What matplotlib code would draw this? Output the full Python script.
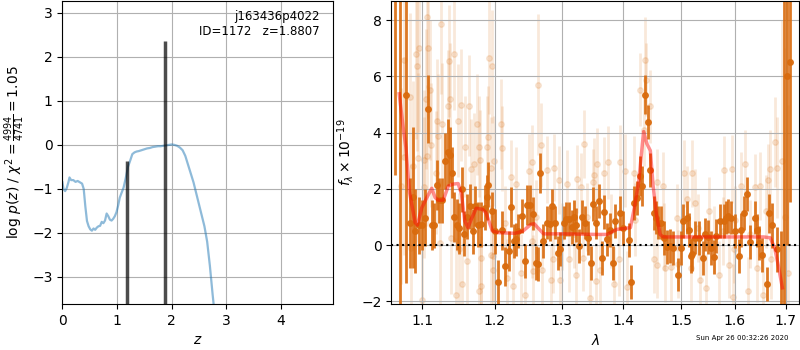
import numpy as np
import matplotlib.pyplot as plt

# --- redshift PDF ---
z_grid = [0.00, 0.02, 0.05, 0.08, 0.11, 0.13, 0.16, 0.20, 0.24, 0.28, 0.32, 0.36,
          0.39, 0.42, 0.45, 0.48, 0.51, 0.54, 0.57, 0.60, 0.63, 0.66, 0.69, 0.72,
          0.75, 0.78, 0.81, 0.84, 0.87, 0.90, 0.93, 0.96, 0.99, 1.02, 1.05, 1.08,
          1.12, 1.16, 1.20, 1.24, 1.28, 1.32, 1.36, 1.40, 1.45, 1.50, 1.55, 1.60,
          1.65, 1.70, 1.75, 1.80, 1.85, 1.90, 1.95, 2.00, 2.05, 2.10, 2.15, 2.20,
          2.25, 2.30, 2.35, 2.40, 2.45, 2.50, 2.55, 2.60, 2.65, 2.70, 2.75, 2.80]
log_pz = [-0.85, -1.00, -1.05, -0.98, -0.85, -0.74, -0.80, -0.80, -0.84, -0.82, -0.85, -0.88,
          -1.00, -1.40, -1.73, -1.85, -1.92, -1.95, -1.90, -1.93, -1.88, -1.85, -1.84, -1.75,
          -1.78, -1.72, -1.56, -1.62, -1.70, -1.72, -1.68, -1.62, -1.53, -1.38, -1.20, -1.10,
          -0.97, -0.75, -0.50, -0.36, -0.21, -0.17, -0.15, -0.14, -0.12, -0.10, -0.08, -0.07,
          -0.05, -0.04, -0.03, -0.03, -0.02, -0.01, 0.00, 0.01, 0.00, -0.02, -0.06, -0.12,
          -0.25, -0.45, -0.65, -0.85, -1.10, -1.35, -1.60, -1.85, -2.20, -2.75, -3.40, -4.00]
z_peaks = [1.175, 1.87]
peak_heights = [-0.37, 2.37]

# --- spectrum: binned points (dark) ---
wave_bin = [1.065, 1.071, 1.079, 1.084, 1.088, 1.091, 1.096, 1.100, 1.104, 1.108, 1.113, 1.116,
            1.120, 1.123, 1.127, 1.131, 1.134, 1.137, 1.140, 1.143, 1.147, 1.150, 1.154, 1.157,
            1.161, 1.165, 1.169, 1.172, 1.176, 1.181, 1.186, 1.189, 1.191, 1.196, 1.200, 1.205,
            1.210, 1.215, 1.220, 1.224, 1.228, 1.231, 1.234, 1.240, 1.244, 1.247, 1.251, 1.256,
            1.261, 1.264, 1.267, 1.272, 1.278, 1.282, 1.285, 1.290, 1.294, 1.297, 1.304, 1.307,
            1.311, 1.316, 1.319, 1.323, 1.328, 1.332, 1.337, 1.341, 1.347, 1.350, 1.354, 1.359,
            1.365, 1.367, 1.373, 1.377, 1.383, 1.386, 1.395, 1.400, 1.409, 1.413, 1.418, 1.423,
            1.428, 1.432, 1.436, 1.441, 1.446, 1.452, 1.456, 1.460, 1.465, 1.469, 1.475, 1.480,
            1.486, 1.494, 1.499, 1.504, 1.511, 1.514, 1.518, 1.520, 1.526, 1.532, 1.540, 1.544,
            1.550, 1.554, 1.560, 1.565, 1.572, 1.579, 1.582, 1.586, 1.592, 1.601, 1.607, 1.612,
            1.617, 1.624, 1.630, 1.638, 1.643, 1.646, 1.653, 1.662, 1.667, 1.672, 1.682, 1.690,
            1.696, 1.703, 1.710]
flux_bin = [9.0, 10.0, 5.35, 0.8, 1.7, 0.5, 0.7, 0.71, 0.98, 4.84, 0.72, 0.7,
            2.14, 1.6, 1.6, 3.0, 3.3, 3.2, 2.58, 1.0, 0.73, 0.6, 1.99, 0.4,
            1.0, 1.39, 0.5, 1.39, 0.72, 0.75, 1.33, 1.71, 2.14, 1.2, 0.5, -1.32,
            0.52, -0.75, -0.21, 1.36, 0.14, 0.2, 0.5, 1.04, -0.57, 1.43, 1.43, 1.12,
            -0.63, -0.66, 2.56, 0.14, 0.8, 0.76, 1.39, 0.8, -0.27, -0.15, 0.8, 0.92,
            0.92, 0.64, 1.0, 0.71, -0.04, 1.0, 0.8, 0.24, -0.63, 1.47, 0.8, 1.57,
            -0.45, 1.19, 0.2, 0.55, -0.63, 0.86, 1.15, 0.62, 0.17, -1.32, 1.51, 1.67,
            2.46, 2.1, 5.35, 4.39, 2.68, 1.15, 0.98, 0.8, 0.8, 0.24, -0.07, -0.04,
            -0.1, -1.05, -0.1, 0.86, 0.98, 0.55, -0.39, -0.33, 0.27, 0.25, -0.45, 0.38,
            0.3, -0.1, -0.42, 0.33, 0.86, 0.86, 0.98, 1.04, 0.98, 0.5, -0.39, 0.55,
            1.15, 1.81, 0.11, 0.98, 0.52, 0.07, -0.36, -1.38, 1.13, 0.71, -0.15, -2.5,
            -3.0, 6.01, 6.53]
err_bin = [6.5, 13.0, 6.7, 1.6, 2.5, 1.5, 1.0, 0.9, 1.0, 1.2, 0.9, 0.8,
           0.9, 0.8, 0.8, 1.0, 1.2, 1.0, 0.9, 0.9, 0.9, 0.9, 0.8, 0.8,
           0.8, 0.8, 0.8, 0.7, 0.8, 0.8, 0.8, 0.8, 0.8, 0.7, 0.8, 0.8,
           0.7, 0.7, 0.7, 0.7, 0.6, 0.6, 0.6, 0.6, 0.6, 0.7, 0.7, 0.6,
           0.6, 0.6, 0.7, 0.6, 0.6, 0.6, 0.6, 0.6, 0.6, 0.6, 0.6, 0.6,
           0.6, 0.6, 0.6, 0.6, 0.6, 0.6, 0.6, 0.6, 0.6, 0.6, 0.6, 0.6,
           0.6, 0.6, 0.6, 0.6, 0.6, 0.6, 0.6, 0.6, 0.6, 0.6, 0.6, 0.6,
           0.7, 0.7, 0.7, 0.6, 0.6, 0.6, 0.6, 0.6, 0.6, 0.6, 0.6, 0.6,
           0.6, 0.6, 0.6, 0.6, 0.6, 0.6, 0.6, 0.6, 0.6, 0.6, 0.6, 0.6,
           0.6, 0.6, 0.6, 0.6, 0.6, 0.6, 0.6, 0.6, 0.6, 0.6, 0.6, 0.6,
           0.6, 0.6, 0.6, 0.6, 0.6, 0.6, 0.6, 0.6, 0.7, 0.8, 0.8, 3.0,
           13.0, 6.0, 5.0]

# --- spectrum: unbinned points (faint) ---
wave_raw = [1.107, 1.125, 1.092, 1.077, 1.093, 1.096, 1.108, 1.136, 1.143, 1.192, 1.196, 1.084,
            1.105, 1.110, 1.138, 1.152, 1.164, 1.120, 1.126, 1.134, 1.148, 1.175, 1.191, 1.112,
            1.121, 1.076, 1.095, 1.103, 1.106, 1.158, 1.177, 1.189, 1.170, 1.179, 1.167, 1.194,
            1.088, 1.073, 1.102, 1.118, 1.085, 1.124, 1.139, 1.149, 1.161, 1.180, 1.195, 1.197,
            1.181, 1.178, 1.145, 1.100, 1.154, 1.209, 1.211, 1.199, 1.264, 1.268, 1.254, 1.250,
            1.224, 1.231, 1.278, 1.289, 1.296, 1.309, 1.325, 1.336, 1.330, 1.350, 1.198, 1.218,
            1.227, 1.244, 1.238, 1.256, 1.270, 1.284, 1.298, 1.322, 1.345, 1.287, 1.311, 1.334,
            1.255, 1.319, 1.437, 1.428, 1.439, 1.446, 1.435, 1.374, 1.395, 1.351, 1.357, 1.368,
            1.403, 1.417, 1.457, 1.468, 1.510, 1.505, 1.520, 1.492, 1.392, 1.362, 1.354, 1.384,
            1.406, 1.453, 1.458, 1.471, 1.482, 1.495, 1.518, 1.579, 1.594, 1.619, 1.612, 1.638,
            1.648, 1.664, 1.669, 1.679, 1.683, 1.526, 1.551, 1.577, 1.546, 1.535, 1.569, 1.588,
            1.597, 1.626, 1.643, 1.671, 1.655, 1.598, 1.692, 1.698, 1.705, 1.215, 1.260, 1.300,
            1.340, 1.380, 1.420, 1.470, 1.530, 1.560, 1.600, 1.630, 1.660]
flux_raw = [8.1, 7.88, 6.79, 6.57, 6.36, 7.02, 7.02, 6.55, 6.79, 6.67, 6.36, 5.26,
            5.2, 5.52, 5.2, 4.99, 4.96, 4.43, 4.29, 4.93, 4.43, 4.29, 3.86, 3.57,
            3.89, 3.14, 3.11, 3.02, 3.18, 3.5, 3.5, 3.5, 2.9, 3.02, 2.7, 2.76,
            2.82, 2.1, 2.05, 2.58, -0.1, 0.08, 0.26, -0.15, -0.57, -0.45, -0.36, -0.9,
            -1.46, -1.64, -1.76, -1.94, -1.4, 4.29, 3.44, 3.0, 5.71, 3.56, 2.96, 2.64,
            2.43, 2.19, 2.68, 2.76, 2.32, 2.19, 2.35, 3.6, 2.07, 2.23, -0.39, -1.17,
            -1.44, -1.79, -0.99, -0.93, -0.87, -1.23, -1.23, -1.05, -1.88, -0.51, -0.48, -0.45,
            0.14, 0.38, 6.6, 5.52, 5.88, 4.93, 4.1, 2.94, 2.96, 2.5, 2.88, 2.56,
            2.64, 2.58, 2.23, 2.1, 1.63, 2.55, 2.55, 0.98, -0.51, -0.87, -1.29, -1.38,
            -1.5, -0.51, -0.69, -0.81, -0.79, -0.67, -0.81, 2.67, 2.7, 2.88, 2.1, 2.05,
            2.1, 2.31, 2.7, 3.65, 2.76, 1.51, 1.21, 0.5, -1.52, -1.23, -1.05, -0.69,
            -1.86, -1.64, -0.81, -0.51, -1.76, -0.15, 3.0, 1.0, -1.0, 0.8, 1.0, 0.3,
            1.0, 0.5, 0.9, 0.3, 0.6, 0.2, 0.9, 0.4, 1.2]
err_raw = [2.5, 2.5, 3.0, 3.5, 3.0, 3.0, 2.5, 2.0, 2.0, 2.0, 2.0, 3.0,
           2.5, 2.5, 2.0, 2.0, 1.8, 2.2, 2.2, 2.0, 2.0, 1.8, 1.8, 2.2,
           2.2, 3.5, 3.0, 2.5, 2.5, 1.8, 1.8, 1.8, 1.8, 1.8, 1.8, 1.8,
           3.0, 3.5, 2.5, 2.2, 3.0, 2.2, 2.0, 2.0, 1.8, 1.8, 1.8, 1.8,
           1.8, 1.8, 2.0, 2.5, 2.0, 1.6, 1.5, 1.6, 2.5, 1.5, 1.3, 1.3,
           1.3, 1.3, 1.2, 1.2, 1.2, 1.2, 1.2, 1.2, 1.2, 1.2, 1.6, 1.4,
           1.4, 1.4, 1.4, 1.3, 1.3, 1.2, 1.2, 1.2, 1.2, 1.2, 1.2, 1.2,
           1.3, 1.2, 1.5, 1.3, 1.3, 1.3, 1.3, 1.3, 1.3, 1.3, 1.3, 1.3,
           1.3, 1.3, 1.2, 1.2, 1.2, 1.2, 1.2, 1.2, 1.3, 1.3, 1.3, 1.3,
           1.3, 1.2, 1.2, 1.2, 1.2, 1.2, 1.2, 1.2, 1.2, 1.2, 1.2, 1.2,
           1.2, 1.3, 1.4, 1.6, 1.8, 1.2, 1.2, 1.2, 1.2, 1.2, 1.2, 1.2,
           1.2, 1.2, 1.2, 1.4, 1.3, 1.2, 5.0, 6.0, 6.0, 1.3, 1.3, 1.2,
           1.2, 1.3, 1.3, 1.2, 1.2, 1.2, 1.2, 1.2, 1.3]

# --- best-fit model ---
wave_model = [1.0702, 1.0753, 1.0788, 1.0832, 1.0908, 1.0938, 1.0996, 1.1062, 1.1128, 1.1172,
              1.1215, 1.1282, 1.1350, 1.1417, 1.1485, 1.1531, 1.1576, 1.1621, 1.1667, 1.1736,
              1.1828, 1.1874, 1.1966, 1.2061, 1.2294, 1.2412, 1.2532, 1.2580, 1.2722, 1.3031,
              1.3553, 1.3727, 1.3891, 1.4117, 1.4184, 1.4260, 1.4342, 1.4400, 1.4458, 1.4503,
              1.4563, 1.4628, 1.4683, 1.5289, 1.6560, 1.6690, 1.6779, 1.6849, 1.6935]
flux_model = [5.38, 4.19, 3.48, 1.93, 0.80, 0.71, 1.33, 1.69, 2.02, 1.69,
              1.60, 1.60, 2.10, 2.17, 2.19, 1.81, 0.86, 0.62, 0.92, 1.31,
              1.27, 1.15, 0.50, 0.44, 0.42, 0.50, 0.74, 0.76, 0.40, 0.40,
              0.38, 0.38, 0.56, 0.62, 1.33, 2.29, 4.04, 3.60, 3.36, 2.17,
              1.10, 0.38, 0.29, 0.29, 0.29, 0.26, -0.10, -0.69, -1.52]

lam_ticks = [1.1, 1.2, 1.3, 1.4, 1.5, 1.6, 1.7]
spec_color = (0.85, 0.42, 0.05)

fig = plt.figure(figsize=(8, 3.5), dpi=100)
ax1 = fig.add_axes([0.078, 0.131, 0.338, 0.866])
ax2 = fig.add_axes([0.489, 0.131, 0.510, 0.866])

# left panel
ax1.plot(z_grid, log_pz, color='#1f77b4', alpha=0.5, lw=1.6)
ax1.vlines(z_peaks, -10, peak_heights, color='k', alpha=0.7, lw=2.5)
ax1.set_xlim(0, 4.95)
ax1.set_ylim(-3.62, 3.27)
ax1.set_xticks([0, 1, 2, 3, 4])
ax1.set_yticks([-3, -2, -1, 0, 1, 2, 3])
ax1.grid()
ax1.set_xlabel('$z$')
ax1.set_ylabel(r'log $p(z)$ / $\chi^2=\frac{4994}{4741}=1.05$')
ax1.text(0.95, 0.97, 'j163436p4022\nID=1172   z=1.8807', transform=ax1.transAxes,
         ha='right', va='top', fontsize=8.5)

# right panel
ax2.errorbar(wave_raw, flux_raw, yerr=err_raw, fmt='o', color=spec_color, ms=4,
             alpha=0.15, lw=2, zorder=1)
ax2.errorbar(wave_bin, flux_bin, yerr=err_bin, fmt='o', color=spec_color, ms=4,
             alpha=0.9, lw=2, zorder=2)
ax2.plot(wave_model, flux_model, color='r', alpha=0.45, lw=2.5, zorder=3)
ax2.axhline(0, color='k', ls=':', lw=1.5, zorder=4)
ax2.set_xscale('log')
ax2.set_xlim(1.06, 1.728)
ax2.set_ylim(-2.1, 8.68)
ax2.set_xticks(lam_ticks)
ax2.set_xticklabels([f'{t:.1f}' for t in lam_ticks])
ax2.xaxis.set_minor_locator(plt.NullLocator())
ax2.set_yticks([-2, 0, 2, 4, 6, 8])
ax2.grid()
ax2.set_xlabel(r'$\lambda$')
ax2.set_ylabel(r'$f_\lambda\times10^{-19}$')

fig.text(0.985, 0.025, 'Sun Apr 26 00:32:26 2020', ha='right', va='bottom', fontsize=5)

fig.savefig('out.png', dpi=100)
